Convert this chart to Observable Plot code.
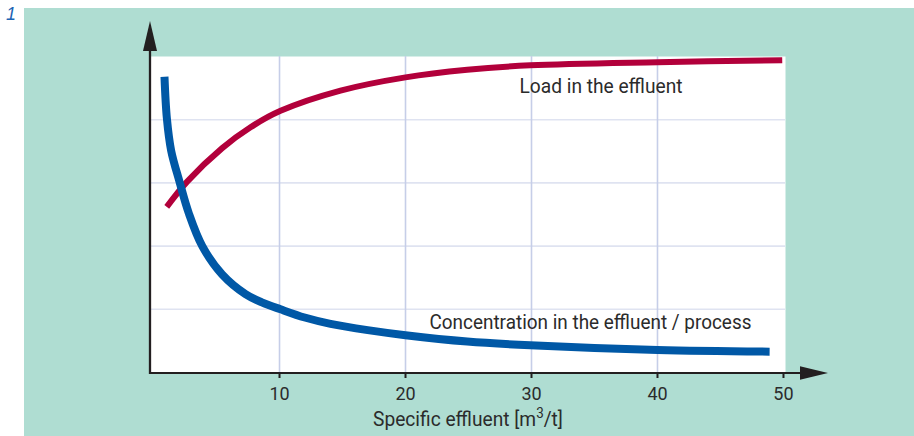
<!DOCTYPE html>
<html>
<head>
<meta charset="utf-8">
<script src="https://cdn.jsdelivr.net/npm/d3@7"></script>
<script src="https://cdn.jsdelivr.net/npm/@observablehq/plot@0.6"></script>
<style>
  html, body { margin: 0; padding: 0; background: #ffffff; }
  #wrap { position: relative; width: 914px; height: 436px; overflow: hidden; }
  #panel { position: absolute; left: 24px; top: 8px; width: 890px; height: 428px; background: #afddd2; }
  #num { position: absolute; left: 6px; top: 4px; font: italic 18px "Liberation Sans", Arial, sans-serif; color: #1c64b4; }
  #chart { position: absolute; left: 0; top: 0; }
</style>
</head>
<body>
<div id="wrap">
  <div id="panel"></div>
  <div id="num">1</div>
  <div id="chart"></div>
</div>
<script>
// ---- data ----
const concX = [0.87, 1.06, 1.40, 2.06, 2.80, 3.87, 5.45, 7.30, 8.60, 10.08, 12.0, 14.05, 17.0, 20.0, 24.9, 29.9, 40.0, 48.9];
const concY = [4.68, 4.02, 3.51, 3.02, 2.52, 2.00, 1.55, 1.24, 1.11, 1.00, 0.87, 0.77, 0.67, 0.59, 0.49, 0.43, 0.355, 0.33];
const loadX = [1.05, 2.67, 5.45, 7.7, 10.08, 14.84, 20.0, 24.9, 29.9, 40.0, 49.9];
const loadY = [2.62, 3.02, 3.55, 3.88, 4.14, 4.46, 4.67, 4.79, 4.86, 4.91, 4.94];
const xTicks = [10, 20, 30, 40, 50];
const xGrid = [10, 20, 30, 40];
const yGrid = [1, 2, 3, 4];
const labels = [
  {name: "Load in the effluent", x: 29.05, y: 4.53},
  {name: "Concentration in the effluent / process", x: 21.9, y: 0.79}
];
const xLabel = "Specific effluent [m";
const xLabelSup = "3";
const xLabelEnd = "/t]";

const conc = concX.map((x, i) => ({x, y: concY[i]}));
const load = loadX.map((x, i) => ({x, y: loadY[i]}));

const font = "'Roboto', 'Liberation Sans', sans-serif";
const ink = "#2b2b2b";

const chart = Plot.plot({
  width: 914,
  height: 436,
  marginLeft: 150,
  marginRight: 129,
  marginTop: 56,
  marginBottom: 64,
  style: {background: "transparent", fontFamily: font, overflow: "visible"},
  x: {domain: [-0.24, 50.16]},
  y: {domain: [0, 5]},
  marks: [
    Plot.frame({fill: "white", stroke: null}),
    Plot.gridY(yGrid, {stroke: "#dfe3f1", strokeOpacity: 1, strokeWidth: 1.6}),
    Plot.gridX(xGrid, {stroke: "#c6cee8", strokeOpacity: 1, strokeWidth: 1.6}),
    Plot.line(load, {x: "x", y: "y", stroke: "#b2003b", strokeWidth: 6, curve: "catmull-rom", strokeLinecap: "butt"}),
    Plot.line(conc, {x: "x", y: "y", stroke: "#0058a6", strokeWidth: 8, curve: "catmull-rom", strokeLinecap: "butt"}),
    Plot.text(labels, {x: "x", y: "y", text: "name", textAnchor: "start", fontSize: 20, fill: ink}),
    Plot.axisX(xTicks, {tickSize: 6, strokeWidth: 2, stroke: "#231f20", tickPadding: 9, fontSize: 18, fill: ink, label: null}),
    Plot.axisY([], {label: null, tickSize: 0})
  ]
});
document.getElementById("chart").appendChild(chart);

const svg = d3.select(chart);

// condensed look of the reference type: fit the annotation widths
const fitWidths = {"Load in the effluent": 163, "Concentration in the effluent / process": 322};
svg.selectAll("text").filter(function() { return fitWidths[this.textContent] != null; })
  .attr("textLength", function() { return fitWidths[this.textContent]; })
  .attr("lengthAdjust", "spacingAndGlyphs");

// axis lines with arrows
const [x0, x1] = chart.scale("x").range;
const [yb, yt] = chart.scale("y").range;
const g = svg.append("g").attr("fill", "#231f20").attr("stroke", "#231f20");
g.append("line").attr("x1", x0).attr("x2", x0).attr("y1", yb + 2).attr("y2", 48).attr("stroke-width", 2.3);
g.append("path").attr("stroke", "none").attr("d", `M${x0},21 L${x0 - 7},51 L${x0 + 7},51 Z`);
g.append("line").attr("x1", x0 - 1).attr("x2", 802).attr("y1", yb + 1).attr("y2", yb + 1).attr("stroke-width", 2.2);
g.append("path").attr("stroke", "none").attr("d", `M828,${yb + 1} L800,${yb - 5.8} L800,${yb + 7.8} Z`);

// x axis title with superscript, horizontally condensed to the reference width
const tg = svg.append("g").attr("transform", "translate(468,426)");
const t = tg.append("text")
  .attr("text-anchor", "middle")
  .attr("font-size", 20)
  .attr("font-family", font)
  .attr("fill", ink);
t.append("tspan").text(xLabel);
t.append("tspan").attr("font-size", 14).attr("dy", -8).text(xLabelSup);
t.append("tspan").attr("dy", 8).text(xLabelEnd);
const w = t.node().getComputedTextLength() || 190;
tg.attr("transform", `translate(468,426) scale(${190 / w},1)`);
</script>
</body>
</html>
